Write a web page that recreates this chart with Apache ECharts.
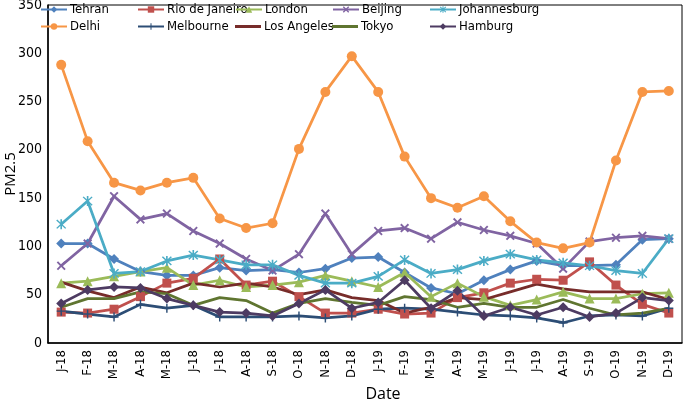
<!DOCTYPE html>
<html>
<head>
<meta charset="utf-8">
<script src="https://cdn.jsdelivr.net/npm/echarts@6/dist/echarts.min.js"></script>
<style>
  html, body { margin: 0; padding: 0; background: #fff; }
  #chart { width: 685px; height: 405px; }
</style>
</head>
<body>
<div id="chart"></div>
<script>
var months = ['J-18','F-18','M-18','A-18','M-18','J-18','J-18','A-18','S-18','O-18','N-18','D-18',
              'J-19','F-19','M-19','A-19','M-19','J-19','J-19','A-19','S-19','O-19','N-19','D-19']

var tehran       = [103,103,87,74,70,70,78,75,76,73,77,88,89,73,57,51,65,76,85,80,80,81,107,108]
var rio          = [32,31,35,48,62,67,87,60,64,48,31,31,35,30,31,47,52,62,66,65,84,60,40,31]
var london       = [62,64,69,74,78,60,65,58,60,63,70,64,58,73,48,62,48,39,45,53,46,46,51,52]
var beijing      = [80,103,152,128,134,116,103,87,75,92,134,92,116,119,108,125,117,111,103,77,105,109,111,108]
var johannesburg = [123,147,72,74,85,91,86,81,81,70,62,62,69,86,72,76,85,92,86,83,80,75,72,108]
var delhi        = [288,209,166,158,166,171,129,119,124,201,260,297,260,193,150,140,152,126,104,98,104,189,260,261]
var melbourne    = [33,30,27,40,36,39,27,27,27,28,26,28,35,36,35,32,29,28,26,21,28,29,28,36]
var losAngeles   = [63,54,47,58,52,62,58,62,58,50,55,47,44,31,37,47,45,53,61,56,53,53,53,45]
var tokyo        = [37,46,46,53,51,39,47,44,31,41,46,42,39,48,45,37,41,37,37,45,36,29,31,36]
var hamburg      = [41,55,58,57,46,39,32,31,28,41,55,36,42,65,36,54,28,37,29,37,27,31,47,44]

var SYM_X = 'path://M1.5,0L5,3.5L8.5,0L10,1.5L6.5,5L10,8.5L8.5,10L5,6.5L1.5,10L0,8.5L3.5,5L0,1.5Z'
var SYM_PLUS = 'path://M4.2,0H5.8V4.2H10V5.8H5.8V10H4.2V5.8H0V4.2H4.2Z'
var SYM_STAR = 'path://M4.3,0H5.7V10H4.3Z M0.7,1.3L1.6,0.4L9.3,8.7L8.4,9.6Z M8.4,0.4L9.3,1.3L1.6,9.6L0.7,8.7Z'

var FONT = '"Liberation Sans Narrow", "DejaVu Sans Condensed", sans-serif'

var seriesDefs = [
  { name: 'Tehran',         data: tehran,       color: '#4F81BD', symbol: 'diamond',  size: 10 },
  { name: 'Rio de Janeiro', data: rio,          color: '#C0504D', symbol: 'rect',     size: 9 },
  { name: 'London',         data: london,       color: '#9BBB59', symbol: 'triangle', size: 10 },
  { name: 'Beijing',        data: beijing,      color: '#8064A2', symbol: SYM_X,      size: 9 },
  { name: 'Johannesburg',   data: johannesburg, color: '#4BACC6', symbol: SYM_STAR,   size: 10 },
  { name: 'Delhi',          data: delhi,        color: '#F79646', symbol: 'circle',   size: 10 },
  { name: 'Melbourne',      data: melbourne,    color: '#2C4D75', symbol: SYM_PLUS,   size: 9 },
  { name: 'Los Angeles',    data: losAngeles,   color: '#772C2A', symbol: 'none',     size: 0 },
  { name: 'Tokyo',          data: tokyo,        color: '#5F7530', symbol: 'none',     size: 0 },
  { name: 'Hamburg',        data: hamburg,      color: '#4D3B62', symbol: 'diamond',  size: 10 }
]

var legendCols = [40, 137, 235, 332, 429]
var legendRows = [3, 20]

var legends = seriesDefs.map(function (s, i) {
  var plain = s.symbol === 'none'
  return {
    data: [plain ? { name: s.name, icon: 'rect' } : s.name],
    left: legendCols[i % 5],
    top: legendRows[Math.floor(i / 5)],
    itemWidth: 26,
    itemHeight: plain ? 3 : 8,
    padding: 0,
    textStyle: { fontFamily: FONT, fontSize: 13, color: '#000', padding: [0, 0, 0, -2] }
  }
})

var series = seriesDefs.map(function (s) {
  return {
    name: s.name,
    type: 'line',
    data: s.data,
    symbol: s.symbol,
    symbolSize: s.size,
    showSymbol: s.symbol !== 'none',
    lineStyle: { color: s.color, width: 2.75 },
    itemStyle: { color: s.color, borderColor: s.color, borderWidth: 0 },
    emphasis: { disabled: true },
    animation: false
  }
})

var myChart = echarts.init(document.getElementById('chart'))
myChart.setOption({
  animation: false,
  legend: legends,
  grid: {
    left: 48, right: 3, top: 5, bottom: 62,
    outerBoundsMode: 'none',
    show: true, borderColor: '#000', borderWidth: 1
  },
  xAxis: {
    type: 'category',
    data: months,
    boundaryGap: true,
    name: 'Date',
    nameLocation: 'middle',
    nameGap: 43,
    nameMoveOverlap: false,
    nameTextStyle: { fontFamily: 'Open Sans, sans-serif', fontSize: 16, color: '#000', padding: [0, 0, 0, 36] },
    axisLine: { lineStyle: { color: '#000', width: 1.5 } },
    axisTick: { show: false },
    axisLabel: { rotate: 90, interval: 0, fontFamily: FONT, fontSize: 13, color: '#000', margin: 7 }
  },
  yAxis: {
    type: 'value',
    min: 0, max: 350, interval: 50,
    name: 'PM2.5',
    nameLocation: 'middle',
    nameGap: 30,
    nameMoveOverlap: false,
    nameTextStyle: { fontFamily: 'Open Sans, sans-serif', fontSize: 15, color: '#000' },
    axisLine: { show: true, lineStyle: { color: '#000', width: 1.5 } },
    axisTick: { show: false },
    splitLine: { show: false },
    axisLabel: { fontFamily: FONT, fontSize: 14, color: '#000', margin: 6 }
  },
  series: series
})
</script>
</body>
</html>
